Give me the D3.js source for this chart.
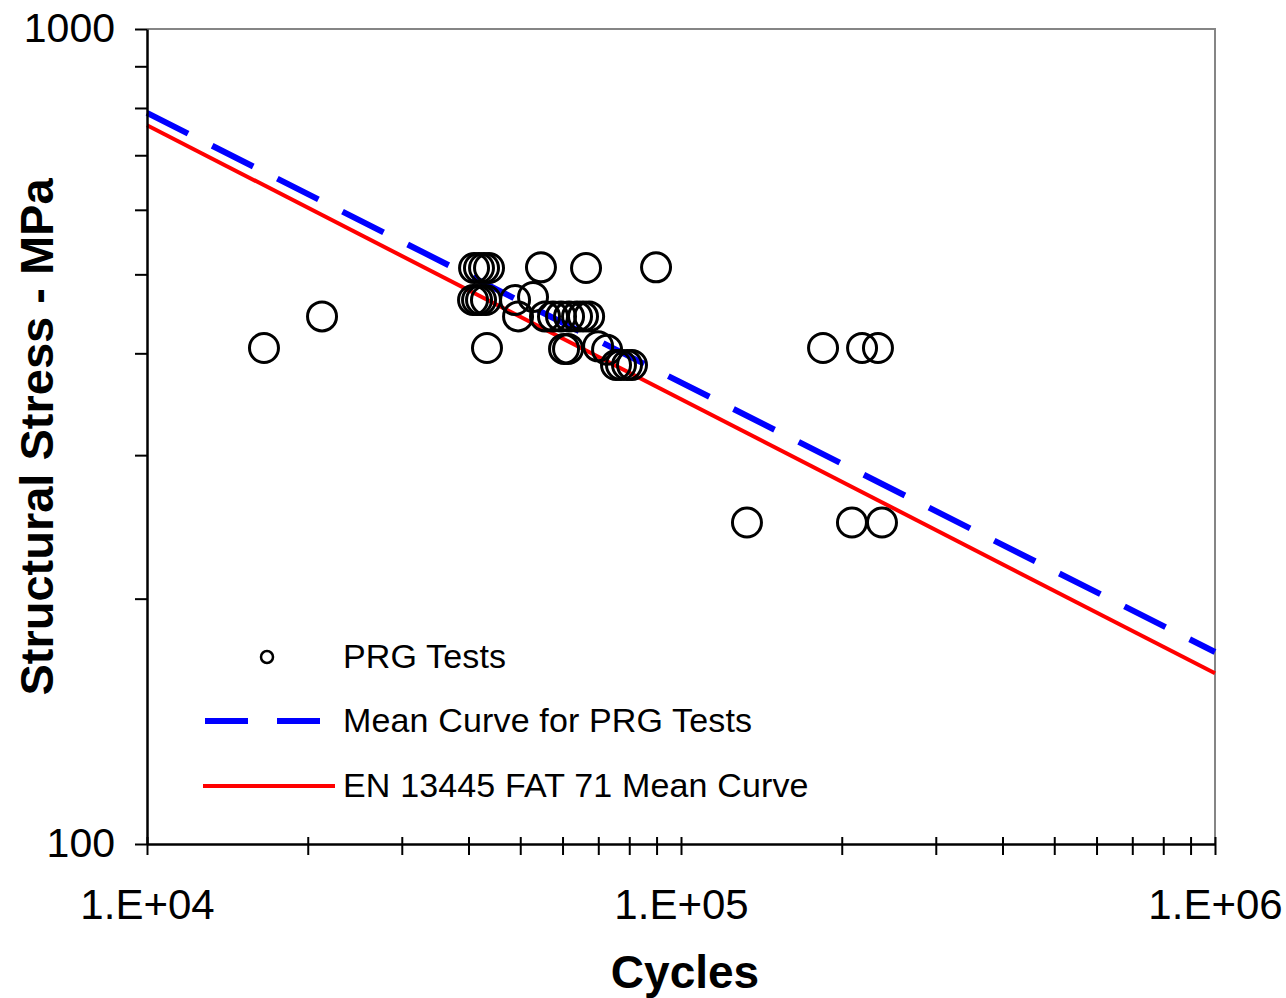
<!DOCTYPE html>
<html>
<head>
<meta charset="utf-8">
<script src="https://cdn.jsdelivr.net/npm/d3@7"></script>
<style>
  body { margin: 0; background: #fff; }
  text { font-family: "Liberation Sans", Arial, sans-serif; }
</style>
</head>
<body>
<div id="chart"></div>
<script>
// fatigue test results (cycles to failure vs structural stress range)
var testCycles = [16560, 21270,
  40970, 41850, 42770, 43700, 54670, 66400, 89800,
  40790, 41500, 42220, 43130, 48890, 52830,
  49530, 55630, 57580, 59610, 61710, 63870, 65540, 67290,
  43320, 60390, 61440, 69950, 72700,
  75560, 77200, 79230, 80950,
  184500, 218300, 233800,
  132900, 209000, 237900];
var testStress = [406, 444,
  509, 509, 509, 509, 510, 509, 510,
  465, 465, 465, 465, 465, 469,
  444, 444, 444, 444, 444, 444, 444, 444,
  406, 405, 405, 408, 404,
  387, 387, 387, 387,
  406, 406, 406,
  248, 248, 248];

// S-N curves, evaluated at the ends of the cycle range
var curveCycles = [1e4, 1e6];
var meanPRG = [789, 172];
var fat71Mean = [762, 162];

var xTicks = [1e4, 2e4, 3e4, 4e4, 5e4, 6e4, 7e4, 8e4, 9e4,
  1e5, 2e5, 3e5, 4e5, 5e5, 6e5, 7e5, 8e5, 9e5, 1e6];
var xLabels = ["1.E+04", "1.E+05", "1.E+06"];
var yTicks = [100, 200, 300, 400, 500, 600, 700, 800, 900, 1000];

var legendNames = ["PRG Tests", "Mean Curve for PRG Tests", "EN 13445 FAT 71 Mean Curve"];

var W = 1286, H = 998;
var margin = {top: 29, right: 71, bottom: 154, left: 147};
var width = W - margin.left - margin.right,
    height = H - margin.top - margin.bottom;

var svg = d3.select("#chart").append("svg")
    .attr("width", W)
    .attr("height", H);

var g = svg.append("g")
    .attr("transform", "translate(" + margin.left + "," + margin.top + ")");

var x = d3.scaleLog().domain([1e4, 1e6]).range([0, width]);
var y = d3.scaleLog().domain([100, 1000]).range([height, 0]);

// grey frame on top and right
g.append("path")
    .attr("d", "M0,0H" + width + "V" + height)
    .attr("fill", "none")
    .attr("stroke", "#858585")
    .attr("stroke-width", 2);

// curves
var line = d3.line()
    .x(function(d) { return x(d[0]); })
    .y(function(d) { return y(d[1]); });

g.append("path")
    .datum(d3.zip(curveCycles, fat71Mean))
    .attr("d", line)
    .attr("fill", "none")
    .attr("stroke", "#ff0000")
    .attr("stroke-width", 4);

g.append("path")
    .datum(d3.zip(curveCycles, meanPRG))
    .attr("d", line)
    .attr("fill", "none")
    .attr("stroke", "#0000ff")
    .attr("stroke-width", 6)
    .attr("stroke-dasharray", "46,27");

// test points
g.append("g")
  .selectAll("circle")
  .data(d3.zip(testCycles, testStress))
  .enter().append("circle")
    .attr("cx", function(d) { return x(d[0]); })
    .attr("cy", function(d) { return y(d[1]); })
    .attr("r", 14.5)
    .attr("fill", "none")
    .attr("stroke", "#000")
    .attr("stroke-width", 3);

// y axis
var yAxis = g.append("g")
    .call(d3.axisLeft(y).tickValues(yTicks).tickSize(12).tickSizeOuter(0)
      .tickFormat(function(d) { return (d === 100 || d === 1000) ? d : ""; }));
yAxis.select(".domain").attr("stroke", "#000").attr("stroke-width", 2.5);
yAxis.selectAll(".tick line").attr("stroke-width", 2);
yAxis.selectAll(".tick text")
    .attr("x", -32)
    .attr("dy", "0.3em")
    .attr("font-size", 41)
    .attr("fill", "#000")
    .style("font-family", "Liberation Sans, Arial, sans-serif");

// x axis, ticks cross the line
var xAxis = g.append("g")
    .attr("transform", "translate(0," + height + ")")
    .call(d3.axisBottom(x).tickValues(xTicks).tickSize(11).tickSizeOuter(0)
      .tickFormat(function(d) {
        var e = Math.round(Math.log10(d));
        return Math.abs(d - Math.pow(10, e)) < 1 ? xLabels[e - 4] : "";
      }));
xAxis.select(".domain").attr("stroke", "#000").attr("stroke-width", 2.5);
xAxis.selectAll(".tick line").attr("y1", -7).attr("stroke-width", 2);
xAxis.selectAll(".tick text")
    .attr("y", 75)
    .attr("dy", 0)
    .attr("font-size", 42)
    .attr("fill", "#000")
    .style("font-family", "Liberation Sans, Arial, sans-serif");

// axis titles
svg.append("text")
    .attr("x", 685)
    .attr("y", 988)
    .attr("text-anchor", "middle")
    .attr("font-size", 46)
    .attr("font-weight", "bold")
    .text("Cycles");

svg.append("text")
    .attr("transform", "translate(53,437) rotate(-90)")
    .attr("text-anchor", "middle")
    .attr("font-size", 47)
    .attr("font-weight", "bold")
    .text("Structural Stress - MPa");

// legend
var legend = svg.append("g");
var rowY = [657, 721, 786];

legend.append("circle")
    .attr("cx", 267).attr("cy", rowY[0])
    .attr("r", 6)
    .attr("fill", "none")
    .attr("stroke", "#000")
    .attr("stroke-width", 2.5);

legend.append("line")
    .attr("x1", 205).attr("x2", 321)
    .attr("y1", rowY[1]).attr("y2", rowY[1])
    .attr("stroke", "#0000ff")
    .attr("stroke-width", 6)
    .attr("stroke-dasharray", "43,29");

legend.append("line")
    .attr("x1", 203).attr("x2", 335)
    .attr("y1", rowY[2]).attr("y2", rowY[2])
    .attr("stroke", "#ff0000")
    .attr("stroke-width", 4);

legend.selectAll("text.lbl")
  .data(legendNames)
  .enter().append("text")
    .attr("class", "lbl")
    .attr("x", 343)
    .attr("y", function(d, i) { return rowY[i] + 11; })
    .attr("font-size", 34)
    .attr("letter-spacing", 0.15)
    .attr("fill", "#000")
    .text(function(d) { return d; });
</script>
</body>
</html>
